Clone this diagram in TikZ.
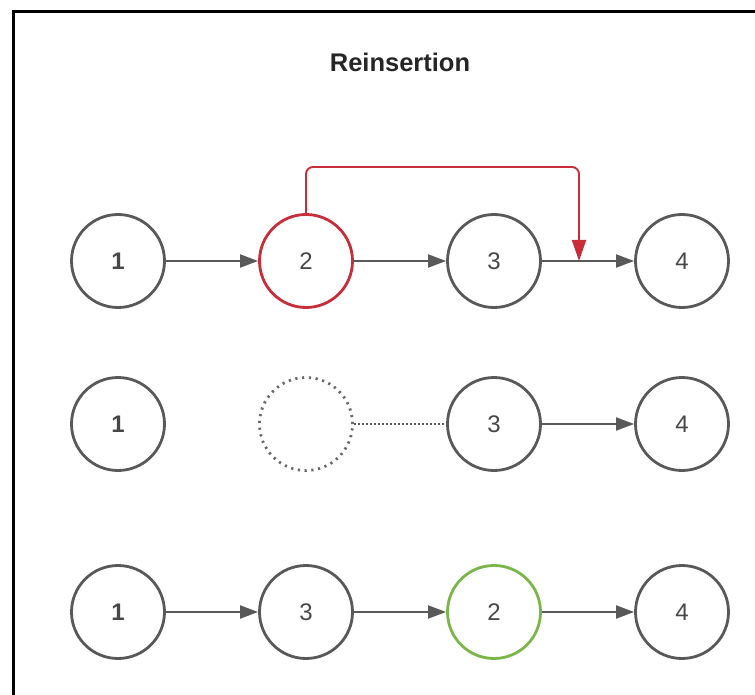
\documentclass[tikz,border=0pt]{standalone}
\usepackage{fontspec}
\setmainfont{Liberation Sans}
\usetikzlibrary{arrows.meta,positioning}

\definecolor{linegray}{HTML}{595959}
\definecolor{movered}{HTML}{C92D39}
\definecolor{putgreen}{HTML}{7AB648}

\begin{document}
\begin{tikzpicture}[x=1pt,y=-1pt,
    ball/.style={draw=linegray,line width=2.8pt,circle,minimum size=93pt,inner sep=0pt,
                 text=linegray!80!black,font=\fontsize{24}{24}\selectfont},
    link/.style={draw=linegray,line width=1.9pt,-{Triangle[length=18pt,width=13pt]}}]
          \useasboundingbox (0,0) rectangle (755,695);
          \clip (0,0) rectangle (755,695);
          \draw[line width=3pt] (13,720) -- (13,12) -- (780,12);

          \node[font=\fontsize{25.5}{26}\selectfont\bfseries,text=black!85] (title) at (400,62) {Reinsertion};

          % first row: 2 gets picked up
          \node[ball,font=\fontsize{24}{24}\selectfont\bfseries] (a1) at (118,261) {1};
          \node[ball,draw=movered] (a2) at (306,261) {2};
          \node[ball] (a3) at (494,261) {3};
          \node[ball] (a4) at (682,261) {4};
          \draw[link] (a1) -- (a2);
          \draw[link] (a2) -- (a3);
          \draw[link] (a3) -- (a4);
          \coordinate (drop) at (579,261);
          \draw[movered,line width=1.9pt,rounded corners=7pt,-{Triangle[length=21pt,width=14pt]}]
          (a2.north) -- (306,167) -- (579,167) -- (drop);

          % second row: the gap
          \node[ball,font=\fontsize{24}{24}\selectfont\bfseries] (b1) at (118,424) {1};
          \node[ball,draw=linegray!90,dash pattern=on 2.2pt off 4.6pt] (b2) at (306,424) {};
          \node[ball] (b3) at (494,424) {3};
          \node[ball] (b4) at (682,424) {4};
          \draw[linegray,line width=1.5pt,dash pattern=on 1.6pt off 2.4pt] (b2) -- (b3);
          \draw[link] (b3) -- (b4);

          % third row: 2 put back after 3
          \node[ball,font=\fontsize{24}{24}\selectfont\bfseries] (c1) at (118,612) {1};
          \node[ball] (c2) at (306,612) {3};
          \node[ball,draw=putgreen] (c3) at (494,612) {2};
          \node[ball] (c4) at (682,612) {4};
          \draw[link] (c1) -- (c2);
          \draw[link] (c2) -- (c3);
          \draw[link] (c3) -- (c4);
        \end{tikzpicture}
\end{document}
